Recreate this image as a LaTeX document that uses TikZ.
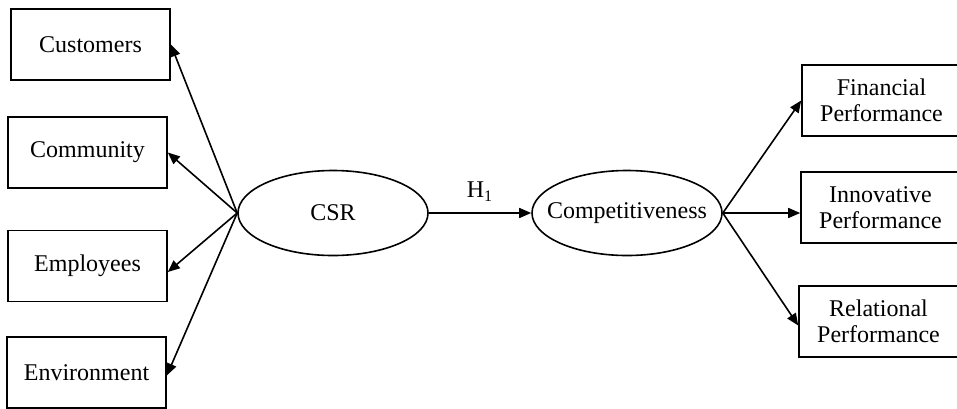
\documentclass[tikz,border=0pt]{standalone}
\usepackage{fontspec}
\setmainfont{Liberation Serif}
\usetikzlibrary{arrows.meta,shapes.geometric}
\begin{document}
\begin{tikzpicture}[x=0.5pt,y=-0.5pt,
  dimbox/.style={draw,line width=0.8pt,minimum width=79.5pt,minimum height=35.5pt,inner sep=0pt,align=center,font=\fontsize{12}{13}\selectfont},
  construct/.style={draw,ellipse,line width=0.8pt,minimum width=95pt,minimum height=42.5pt,inner sep=0pt,font=\fontsize{12}{13}\selectfont},
  link/.style={line width=0.8pt,-{Triangle[length=6pt,width=5pt]}}]
  \useasboundingbox (0,0) rectangle (957,408);
  \node [dimbox] (cust) at (90.5,44.5) {Customers};
  \node [dimbox] (comm) at (87.5,152.5) {Community};
  \node [dimbox] (empl) at (87.5,266) {Employees};
  \node [dimbox] (envi) at (86.5,372.5) {Environment};
  \node [construct] (csr) at (333,213) {CSR};
  \node [construct,inner xsep=-11pt] (comp) at (627,213) {Competitiveness};
  \node [dimbox] (fin) at (881.5,100.5) {Financial\\Performance};
  \node [dimbox] (inn) at (880.5,207.5) {Innovative\\Performance};
  \node [dimbox] (rel) at (878.5,321.5) {Relational\\Performance};
  \draw [link] (csr.west) -- (cust.east);
  \draw [link] (csr.west) -- (comm.east);
  \draw [link] (csr.west) -- ([yshift=-3pt]empl.east);
  \draw [link] (csr.west) -- ([yshift=-1.5pt]envi.east);
  \draw [link] (csr.east) -- node [above=2pt,font=\fontsize{12}{13}\selectfont] (hyp) {H\textsubscript{1}} (comp.west);
  \draw [link] (comp.east) -- (fin.west);
  \draw [link] (comp.east) -- (comp.east -| inn.west);
  \draw [link] (comp.east) -- ([yshift=-2pt]rel.west);
\end{tikzpicture}
\end{document}
